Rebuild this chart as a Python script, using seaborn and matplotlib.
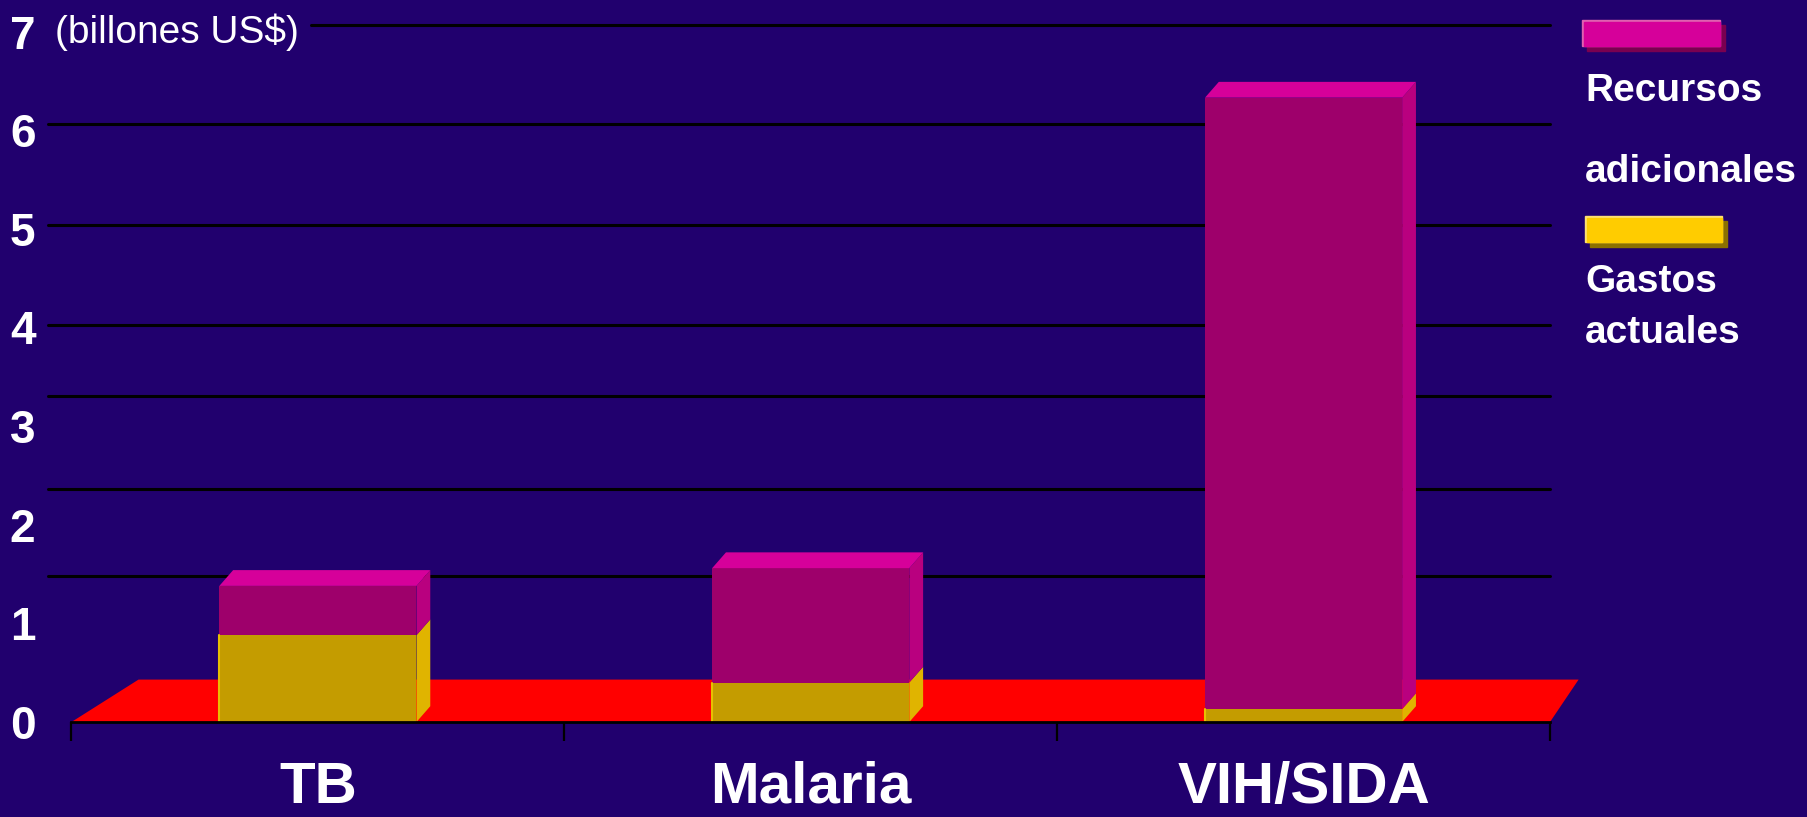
import numpy as np
import pandas as pd
import matplotlib
matplotlib.use("Agg")
import matplotlib.pyplot as plt
from matplotlib.patches import Polygon, Rectangle
import seaborn as sns

# ---- data (billones US$) ----
categories = ["TB", "Malaria", "VIH/SIDA"]
gastos_actuales = [0.88, 0.40, 0.13]
recursos_adicionales = [0.50, 1.16, 6.20]
y_ticks = [0, 1, 2, 3, 4, 5, 6, 7]
# the back-wall gridlines of the 3D chart do not sit exactly on the ticks
grid_levels = [7.07, 6.06, 5.04, 4.03, 3.31, 2.36, 1.48]

# ---- colours ----
BG = "#21006e"
MAG_FRONT = "#9e006b"
MAG_SIDE = "#b9007f"
MAG_TOP = "#d6009a"
GOLD_FRONT = "#c49c00"
GOLD_SIDE = "#e0b400"
FLOOR = "#ff0000"

FONT = ["Liberation Sans", "DejaVu Sans"]

# 3D depth of the bars (data units) and of the floor
DX, DY = 0.028, 0.16
FLOOR_BACK = 0.43

totals = [a + b for a, b in zip(gastos_actuales, recursos_adicionales)]
df = pd.DataFrame({"cat": categories, "actual": gastos_actuales, "total": totals})

sns.set_theme(style="white")
plt.rcParams["font.family"] = FONT

W, H = 1807, 817
fig = plt.figure(figsize=(W / 100, H / 100), dpi=100, facecolor=BG)
ax = fig.add_axes([71.5 / W, (H - 722) / H, (1550 - 71.5) / W, 722 / H])
ax.set_facecolor(BG)

# front faces: total in magenta, current spending in gold on top of it
sns.barplot(data=df, x="cat", y="total", color=MAG_FRONT, width=0.4,
            saturation=1, linewidth=0, ax=ax, zorder=3)
sns.barplot(data=df, x="cat", y="actual", color=GOLD_FRONT, width=0.4,
            saturation=1, linewidth=0, ax=ax, zorder=4)

n = len(categories)
mag_bars = ax.patches[:n]
gold_bars = ax.patches[n:2 * n]

def side(x1, y0, y1):
    return [(x1, y0), (x1 + DX, y0 + DY), (x1 + DX, y1 + DY), (x1, y1)]

for pm, pg in zip(mag_bars, gold_bars):
    x0 = pm.get_x()
    x1 = x0 + pm.get_width()
    top = pm.get_height()
    cur = pg.get_height()
    ax.add_patch(Polygon(side(x1, 0, cur), closed=True, color=GOLD_SIDE, lw=0, zorder=3.5))
    ax.add_patch(Polygon(side(x1, cur, top), closed=True, color=MAG_SIDE, lw=0, zorder=3.5))
    ax.add_patch(Polygon([(x0, top), (x0 + DX, top + DY), (x1 + DX, top + DY), (x1, top)],
                         closed=True, color=MAG_TOP, lw=0, zorder=3.5))
    # thin light edge on the left of the gold block
    ax.plot([x0, x0], [0, cur], color="#e8c000", lw=1.5, zorder=4.5)

ax.set_xlim(-0.5, n - 0.5)
ax.set_ylim(0, 7.32)

# red floor
ax.add_patch(Polygon([(-0.5, 0), (-0.5 + 0.136, FLOOR_BACK),
                      (n - 0.5 + 0.058, FLOOR_BACK), (n - 0.5, 0)],
                     closed=True, color=FLOOR, lw=0, zorder=2, clip_on=False))

# gridlines
for i, g in enumerate(grid_levels):
    xmin = 0.162 if i == 0 else -0.016
    ax.axhline(g, xmin=xmin, xmax=1.0, color="black", lw=2.2, zorder=0.5, clip_on=False)

for s in ["left", "right", "top"]:
    ax.spines[s].set_visible(False)
ax.spines["bottom"].set_color("black")
ax.spines["bottom"].set_linewidth(2)
ax.spines["bottom"].set_zorder(5)

ax.set_xlabel("")
ax.set_ylabel("")
ax.set_xticks(range(n))
ax.set_xticklabels(categories, fontsize=42, fontweight="bold", color="white")
ax.set_xticks([i - 0.5 for i in range(n + 1)], minor=True)
ax.tick_params(axis="x", which="major", length=0, pad=28)
ax.tick_params(axis="x", which="minor", bottom=True, length=14, width=1.6,
               color="black", direction="out")

ax.set_yticks(y_ticks)
ax.set_yticklabels([str(t) for t in y_ticks], fontsize=33, fontweight="bold", color="white")
ax.tick_params(axis="y", length=0, pad=26)
ax.grid(False)

fig.text(55 / W, 1 - 32 / H, "(billones US$)", fontsize=28, color="white",
         va="center", ha="left")

# legend drawn by hand (boxes with drop shadow)
def swatch(x0, y0, x1, y1, face, light, shadow):
    w, h = (x1 - x0) / W, (y1 - y0) / H
    fig.patches.append(Rectangle(((x0 + 5) / W, 1 - (y1 + 5) / H), w, h, color=shadow,
                                 transform=fig.transFigure, figure=fig))
    fig.patches.append(Rectangle((x0 / W, 1 - y1 / H), w, h, color=light,
                                 transform=fig.transFigure, figure=fig))
    fig.patches.append(Rectangle(((x0 + 2) / W, 1 - y1 / H), w - 2 / W, h - 2 / H, color=face,
                                 transform=fig.transFigure, figure=fig))

swatch(1582, 20, 1720, 46, MAG_TOP, "#e060b0", "#7a0050")
swatch(1585, 216, 1722, 242, "#ffcc00", "#ffe070", "#8c7000")

for txt, yc in [("Recursos", 91), ("adicionales", 172), ("Gastos", 282), ("actuales", 333)]:
    fig.text(1585 / W, 1 - yc / H, txt, fontsize=28, fontweight="bold", color="white",
             va="center", ha="left")

fig.savefig("out.png", dpi=100, facecolor=BG)
